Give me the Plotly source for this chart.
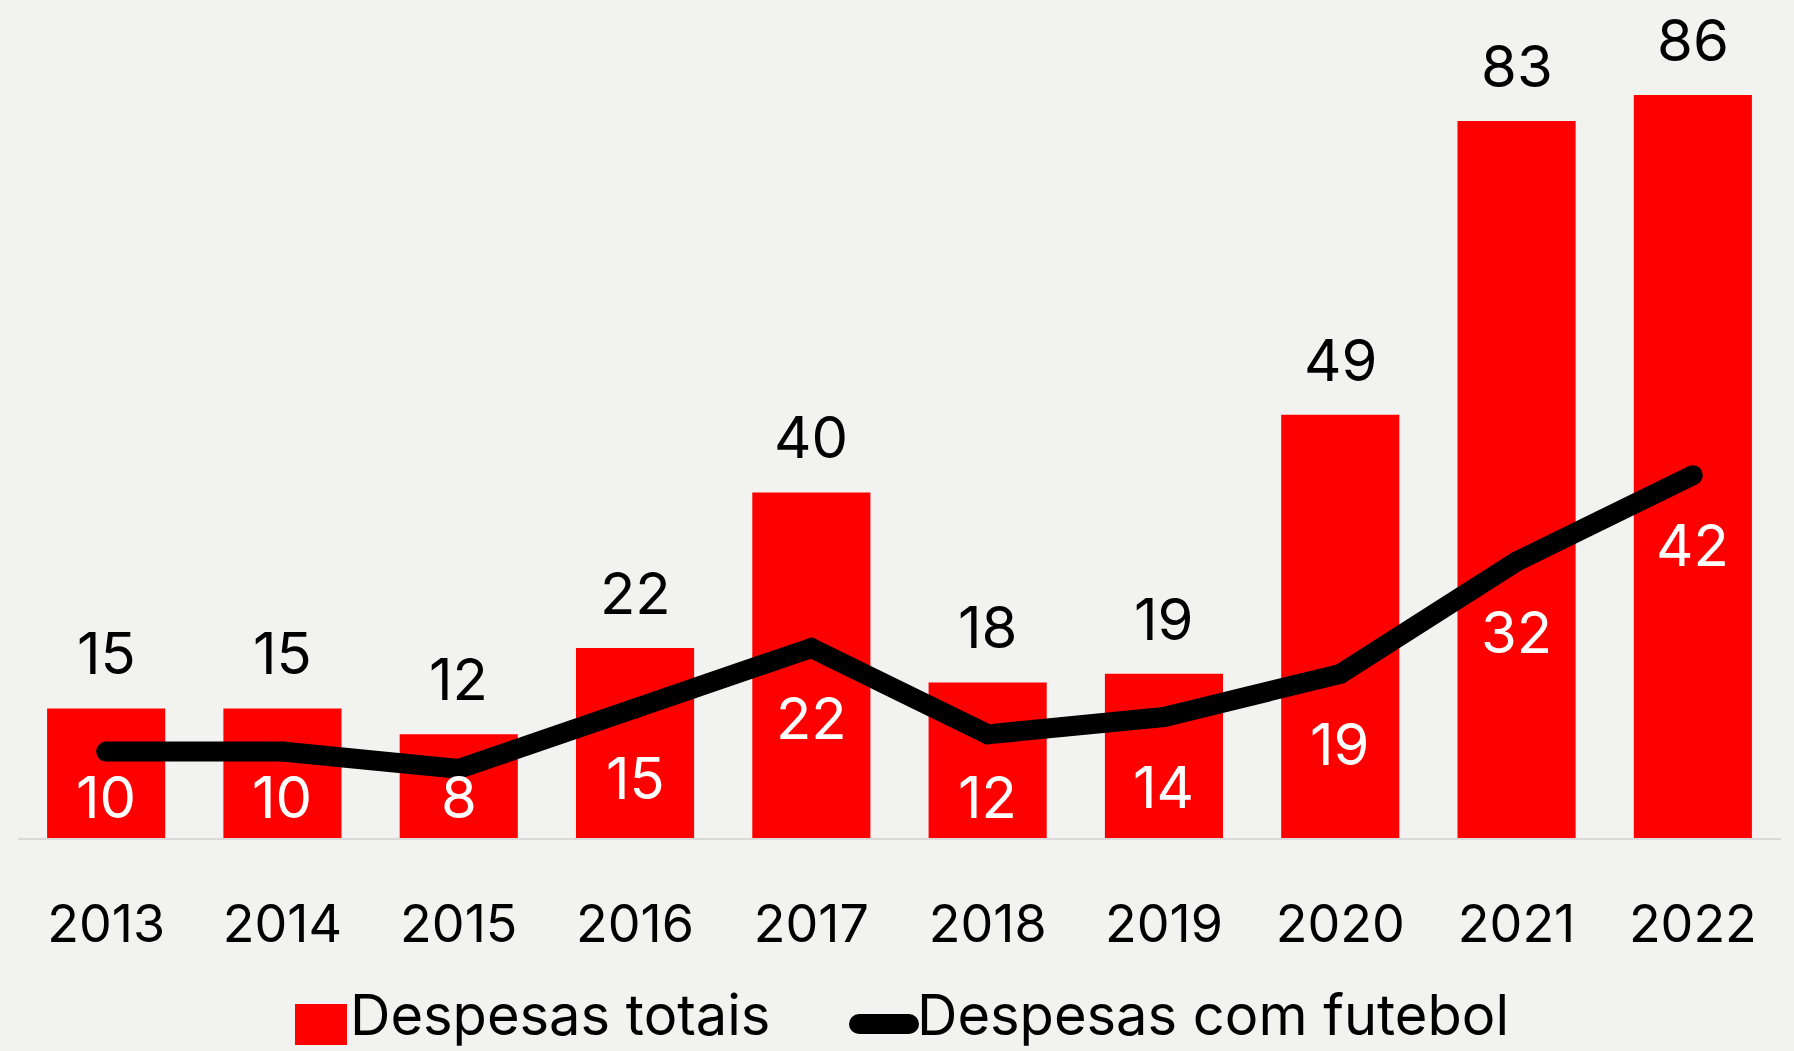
import plotly.graph_objects as go

years = ["2013", "2014", "2015", "2016", "2017", "2018", "2019", "2020", "2021", "2022"]
despesas_totais = [15, 15, 12, 22, 40, 18, 19, 49, 83, 86]
despesas_futebol = [10, 10, 8, 15, 22, 12, 14, 19, 32, 42]

FONT = "Inter, Lato, sans-serif"
W, H = 1794, 1051
M_T, M_B, M_L, M_R = 0, 213, 18, 13
YMAX = 97
plot_h = H - M_T - M_B
plot_w = W - M_L - M_R
px_per_unit = plot_h / YMAX
LINE_W = 20


def px_to_paper_x(px):
    return (px - M_L) / plot_w


def px_to_paper_y(py):
    return (plot_h - (py - M_T)) / plot_h


fig = go.Figure()
fig.add_trace(go.Bar(
    x=years, y=despesas_totais, name="Despesas totais",
    marker=dict(color="#ff0000", line=dict(width=0)),
    showlegend=False,
))
fig.add_trace(go.Scatter(
    x=years, y=despesas_futebol, name="Despesas com futebol",
    mode="lines+markers", line=dict(color="#000000", width=LINE_W),
    marker=dict(color="#000000", size=LINE_W, line=dict(width=0)),
    showlegend=False,
))

annotations = []
# category axis: annotation x is the category index
for i, v in enumerate(despesas_totais):
    annotations.append(dict(
        x=i, y=v, xref="x", yref="y", text=str(v), showarrow=False,
        yanchor="middle", yshift=55,
        font=dict(family=FONT, size=58, color="#000000"),
    ))
for i, v in enumerate(despesas_futebol):
    yl = max(v - 70 / px_per_unit, 4.8)
    annotations.append(dict(
        x=i, y=yl, xref="x", yref="y", text=str(v), showarrow=False,
        yanchor="middle",
        font=dict(family=FONT, size=58, color="#ffffff"),
    ))

# custom legend (large symbols as in the reference)
leg_y = px_to_paper_y(1015)
sym_y = px_to_paper_y(1024)
r = LINE_W / 2
shapes = [
    dict(type="rect", xref="paper", yref="paper",
         x0=px_to_paper_x(295), x1=px_to_paper_x(347),
         y0=px_to_paper_y(1045), y1=px_to_paper_y(1004),
         fillcolor="#ff0000", line=dict(width=0)),
    dict(type="line", xref="paper", yref="paper",
         x0=px_to_paper_x(859), x1=px_to_paper_x(909),
         y0=sym_y, y1=sym_y,
         line=dict(color="#000000", width=LINE_W)),
]
for cx in (859, 909):
    shapes.append(dict(
        type="circle", xref="paper", yref="paper",
        x0=px_to_paper_x(cx - r), x1=px_to_paper_x(cx + r),
        y0=px_to_paper_y(1024 + r), y1=px_to_paper_y(1024 - r),
        fillcolor="#000000", line=dict(width=0),
    ))
annotations.append(dict(
    x=px_to_paper_x(348), y=leg_y, xref="paper", yref="paper",
    text="Despesas totais", showarrow=False, xanchor="left", yanchor="middle",
    font=dict(family=FONT, size=56, color="#000000"),
))
annotations.append(dict(
    x=px_to_paper_x(915), y=leg_y, xref="paper", yref="paper",
    text="Despesas com futebol", showarrow=False, xanchor="left", yanchor="middle",
    font=dict(family=FONT, size=56, color="#000000"),
))

fig.update_layout(
    width=W, height=H, autosize=False,
    margin=dict(t=M_T, b=M_B, l=M_L, r=M_R, pad=0),
    paper_bgcolor="#f2f2f1", plot_bgcolor="#f2f2f1",
    bargap=0.33,
    showlegend=False,
    xaxis=dict(
        type="category", range=[-0.5, len(years) - 0.5],
        showgrid=False, zeroline=False, showline=True,
        linecolor="#d9d9d9", linewidth=2, ticks="",
        tickfont=dict(family=FONT, size=52, color="#000000"),
        ticklabelstandoff=40,
    ),
    yaxis=dict(
        range=[0, YMAX], showgrid=False, zeroline=False, showline=False,
        showticklabels=False, ticks="",
    ),
    annotations=annotations,
    shapes=shapes,
)

fig.write_html(
    "out.html",
    config={"displayModeBar": False},
    post_script="document.body.style.margin='0';document.body.style.overflow='hidden';",
)
